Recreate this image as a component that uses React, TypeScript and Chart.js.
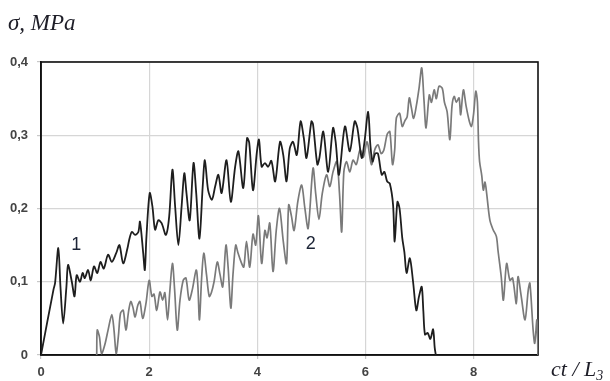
import React, { useEffect, useRef } from "react";
import { Chart, registerables } from "chart.js";

Chart.register(...registerables);

// Curve 1 (black)
const curve1X = [
  0, 0.23, 0.26, 0.32, 0.36, 0.41, 0.47, 0.5, 0.57, 0.62, 0.66, 0.72, 0.77, 0.81, 0.87, 0.92, 0.98, 1.04, 1.1, 1.16,
  1.24, 1.31, 1.39, 1.45, 1.52, 1.6, 1.63, 1.68, 1.74, 1.8, 1.83, 1.89, 1.92, 1.95, 2.01, 2.06, 2.11, 2.17, 2.23, 2.31,
  2.37, 2.43, 2.48, 2.54, 2.6, 2.65, 2.69, 2.75, 2.82, 2.87, 2.93, 2.99, 3.03, 3.09, 3.16, 3.22, 3.28, 3.34, 3.43, 3.51,
  3.59, 3.65, 3.74, 3.81, 3.85, 3.92, 3.99, 4.03, 4.08, 4.14, 4.2, 4.26, 4.33, 4.42, 4.48, 4.54, 4.6, 4.66, 4.73, 4.8,
  4.86, 4.91, 5.0, 5.03, 5.11, 5.15, 5.22, 5.31, 5.4, 5.45, 5.51, 5.62, 5.71, 5.8, 5.85, 5.93, 5.98, 6.05, 6.09, 6.13,
  6.18, 6.23, 6.3, 6.35, 6.4, 6.45, 6.51, 6.54, 6.59, 6.63, 6.68, 6.72, 6.76, 6.82, 6.88, 6.94, 6.99, 7.04, 7.07, 7.1,
  7.15, 7.2, 7.25, 7.28, 7.3,
];
const curve1Y = [
  0, 0.089, 0.098, 0.146, 0.093, 0.043, 0.093, 0.123, 0.1, 0.08, 0.109, 0.1, 0.112, 0.105, 0.116, 0.102, 0.121, 0.112, 0.127, 0.118,
  0.137, 0.127, 0.139, 0.15, 0.125, 0.146, 0.157, 0.168, 0.164, 0.168, 0.182, 0.139, 0.116, 0.162, 0.221, 0.203, 0.171, 0.184, 0.18, 0.164,
  0.189, 0.253, 0.203, 0.15, 0.203, 0.248, 0.221, 0.184, 0.262, 0.221, 0.159, 0.23, 0.266, 0.225, 0.212, 0.23, 0.246, 0.221, 0.266, 0.209,
  0.257, 0.278, 0.228, 0.296, 0.29, 0.225, 0.276, 0.294, 0.257, 0.262, 0.257, 0.265, 0.237, 0.291, 0.273, 0.237, 0.282, 0.291, 0.273, 0.319,
  0.296, 0.269, 0.319, 0.315, 0.26, 0.27, 0.305, 0.25, 0.31, 0.29, 0.246, 0.312, 0.278, 0.319, 0.31, 0.269, 0.29, 0.332, 0.287, 0.264,
  0.275, 0.275, 0.246, 0.25, 0.237, 0.234, 0.205, 0.155, 0.209, 0.2, 0.16, 0.14, 0.112, 0.132, 0.1, 0.061, 0.08, 0.093, 0.06, 0.028,
  0.03, 0.022, 0.035, 0.01, 0,
];

// Curve 2 (grey)
const curve2X = [
  1.03, 1.04, 1.08, 1.12, 1.18, 1.24, 1.31, 1.35, 1.39, 1.43, 1.47, 1.52, 1.57, 1.62, 1.66, 1.7, 1.74, 1.79, 1.83, 1.88,
  1.94, 2.0, 2.05, 2.09, 2.14, 2.2, 2.25, 2.29, 2.34, 2.38, 2.43, 2.47, 2.52, 2.57, 2.63, 2.68, 2.74, 2.8, 2.87, 2.9,
  2.93, 2.97, 3.01, 3.06, 3.11, 3.15, 3.2, 3.26, 3.31, 3.36, 3.42, 3.46, 3.51, 3.55, 3.6, 3.64, 3.71, 3.75, 3.8, 3.86,
  3.92, 3.97, 4.02, 4.08, 4.14, 4.18, 4.23, 4.29, 4.35, 4.41, 4.48, 4.54, 4.58, 4.63, 4.68, 4.75, 4.82, 4.88, 4.94, 5.03,
  5.08, 5.14, 5.2, 5.28, 5.34, 5.4, 5.47, 5.52, 5.56, 5.6, 5.65, 5.71, 5.77, 5.83, 5.9, 5.96, 6.03, 6.11, 6.17, 6.23,
  6.29, 6.34, 6.4, 6.45, 6.5, 6.54, 6.57, 6.63, 6.68, 6.73, 6.77, 6.81, 6.85, 6.89, 6.94, 6.99, 7.04, 7.08, 7.12, 7.18,
  7.22, 7.27, 7.31, 7.36, 7.42, 7.46, 7.51, 7.56, 7.6, 7.64, 7.68, 7.73, 7.76, 7.81, 7.86, 7.92, 7.96, 8.0, 8.04, 8.07,
  8.09, 8.11, 8.15, 8.18, 8.21, 8.24, 8.3, 8.36, 8.42, 8.45, 8.51, 8.55, 8.61, 8.67, 8.72, 8.79, 8.82, 8.88, 8.95, 9.01,
  9.04, 9.1, 9.13, 9.17, 9.19,
];
const curve2Y = [
  0, 0.034, 0.025, 0.002, 0.014, 0.034, 0.055, 0.034, 0.002, 0.025, 0.057, 0.061, 0.034, 0.06, 0.073, 0.065, 0.052, 0.068, 0.073, 0.05,
  0.07, 0.102, 0.08, 0.083, 0.061, 0.086, 0.075, 0.085, 0.048, 0.085, 0.125, 0.09, 0.034, 0.075, 0.102, 0.105, 0.075, 0.09, 0.116, 0.095,
  0.048, 0.105, 0.139, 0.11, 0.08, 0.085, 0.1, 0.127, 0.11, 0.093, 0.15, 0.12, 0.064, 0.11, 0.15, 0.14, 0.125, 0.12, 0.155, 0.12,
  0.165, 0.15, 0.19, 0.125, 0.17, 0.16, 0.18, 0.114, 0.17, 0.2, 0.155, 0.125, 0.205, 0.19, 0.17, 0.21, 0.232, 0.2, 0.173, 0.255,
  0.22, 0.185, 0.22, 0.246, 0.23, 0.25, 0.264, 0.22, 0.168, 0.25, 0.264, 0.25, 0.266, 0.26, 0.28, 0.27, 0.291, 0.26, 0.28, 0.287,
  0.275, 0.28, 0.301, 0.305, 0.26, 0.28, 0.323, 0.33, 0.312, 0.32, 0.325, 0.351, 0.337, 0.323, 0.34, 0.364, 0.392, 0.35, 0.31, 0.355,
  0.345, 0.362, 0.35, 0.367, 0.364, 0.345, 0.332, 0.294, 0.34, 0.353, 0.345, 0.351, 0.328, 0.362, 0.34, 0.319, 0.312, 0.33, 0.36, 0.345,
  0.291, 0.264, 0.245, 0.225, 0.236, 0.221, 0.184, 0.171, 0.162, 0.143, 0.107, 0.075, 0.125, 0.102, 0.105, 0.07, 0.107, 0.08, 0.048, 0.089,
  0.098, 0.034, 0.016, 0.048, 0,
];

const xTicks = [0, 2, 4, 6, 8];
const yTicks = [0, 0.1, 0.2, 0.3, 0.4];
const xMin = 0;
const xMax = 9.19;
const yMin = 0;
const yMax = 0.4;

const curveLabels = ["1", "2"];
const curveLabelX = [0.65, 4.99];
const curveLabelY = [0.15, 0.152];

const yAxisTitle = "σ, MPa";
const xAxisTitleMain = "ct / L";
const xAxisTitleSub = "3";

const zip = (xs: number[], ys: number[]) => xs.map((x, i) => ({ x, y: ys[i] }));

export default function App() {
  const ref = useRef<HTMLCanvasElement | null>(null);

  useEffect(() => {
    if (!ref.current) return;

    const framePlugin = {
      id: "frame",
      beforeDatasetsDraw(chart: any) {
        const { ctx, chartArea } = chart;
        ctx.save();
        ctx.strokeStyle = "#111";
        ctx.lineWidth = 1.6;
        ctx.strokeRect(chartArea.left, chartArea.top, chartArea.right - chartArea.left, chartArea.bottom - chartArea.top);
        ctx.restore();
      },
      afterDraw(chart: any) {
        const { ctx, scales } = chart;
        ctx.save();
        // curve labels
        ctx.fillStyle = "#1c2436";
        ctx.font = '18px "Liberation Sans"';
        ctx.textAlign = "center";
        ctx.textBaseline = "middle";
        curveLabels.forEach((t, i) => {
          ctx.fillText(t, scales.x.getPixelForValue(curveLabelX[i]), scales.y.getPixelForValue(curveLabelY[i]));
        });
        // y axis title
        ctx.fillStyle = "#1e1e28";
        ctx.textAlign = "left";
        ctx.textBaseline = "alphabetic";
        ctx.font = 'italic 23px "Liberation Serif"';
        ctx.fillText(yAxisTitle, 8, 30);
        // x axis title
        ctx.font = 'italic 22px "Liberation Serif"';
        ctx.fillText(xAxisTitleMain, 551, 376);
        const w = ctx.measureText(xAxisTitleMain).width;
        ctx.font = 'italic 14px "Liberation Serif"';
        ctx.fillText(xAxisTitleSub, 551 + w, 380);
        ctx.restore();
      },
    };

    const chart = new Chart(ref.current, {
      type: "scatter",
      data: {
        datasets: [
          {
            data: zip(curve1X, curve1Y),
            showLine: true,
            borderColor: "#1e1e1e",
            borderWidth: 1.8,
            pointRadius: 0,
            tension: 0.3,
          },
          {
            data: zip(curve2X, curve2Y),
            showLine: true,
            borderColor: "#7a7a7a",
            borderWidth: 1.7,
            pointRadius: 0,
            tension: 0.3,
          },
        ],
      },
      options: {
        animation: false,
        responsive: false,
        maintainAspectRatio: false,
        layout: { padding: { left: 0, top: 62, right: 72, bottom: 0 } },
        plugins: { legend: { display: false }, tooltip: { enabled: false } },
        scales: {
          x: {
            type: "linear",
            min: xMin,
            max: xMax,
            afterBuildTicks: (s: any) => {
              s.ticks = xTicks.map((v) => ({ value: v }));
            },
            afterFit: (s: any) => {
              s.height = 26;
            },
            grid: { color: "#d6d6d6", lineWidth: 1.2, tickLength: 4, tickColor: "#c8c8c8" },
            border: { color: "#111", width: 1.6 },
            ticks: {
              color: "#444",
              font: { family: '"Liberation Sans"', size: 13, weight: "bold" },
              padding: 6,
              maxRotation: 0,
              callback: (v: any) => String(v),
            },
          },
          y: {
            type: "linear",
            min: yMin,
            max: yMax,
            afterBuildTicks: (s: any) => {
              s.ticks = yTicks.map((v) => ({ value: v }));
            },
            afterFit: (s: any) => {
              s.width = 41;
            },
            grid: { color: "#d6d6d6", lineWidth: 1.2, tickLength: 4, tickColor: "#c8c8c8" },
            border: { color: "#111", width: 1.6 },
            ticks: {
              color: "#444",
              font: { family: '"Liberation Sans"', size: 13, weight: "bold" },
              padding: 9,
              callback: (v: any) => String(Math.round(Number(v) * 10) / 10).replace(".", ","),
            },
          },
        },
      },
      plugins: [framePlugin],
    } as any);

    return () => chart.destroy();
  }, []);

  return (
    <div style={{ position: "fixed", left: 0, top: 0, width: 610, height: 381, background: "#fff" }}>
      <canvas ref={ref} width={610} height={381} />
    </div>
  );
}
